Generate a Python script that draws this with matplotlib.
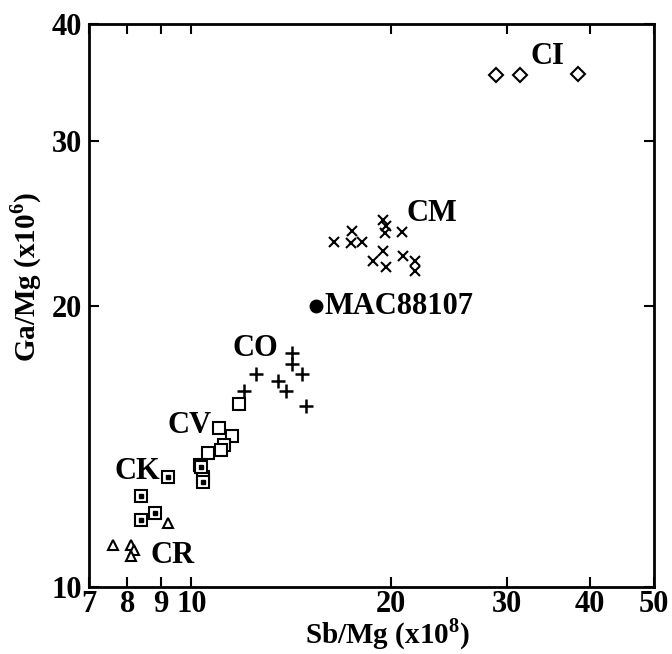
import numpy as np
import matplotlib
matplotlib.use('Agg')
import matplotlib.pyplot as plt
from matplotlib.ticker import FixedLocator, NullLocator

plt.rcParams['font.family'] = ['Liberation Serif', 'DejaVu Serif']
plt.rcParams['font.weight'] = 'bold'
plt.rcParams['mathtext.fontset'] = 'custom'
plt.rcParams['mathtext.rm'] = 'Liberation Serif:bold'
plt.rcParams['mathtext.bf'] = 'Liberation Serif:bold'

# Sb/Mg (x1e8) and Ga/Mg (x1e6) by chondrite group
ci_sb = [28.9, 31.4, 38.4]
ci_ga = [35.3, 35.3, 35.4]

cm_sb = [16.4, 17.4, 17.5, 18.1, 19.5, 19.7, 19.6, 20.8, 19.5, 18.8, 19.7, 20.9, 21.8, 21.8]
cm_ga = [23.4, 23.3, 24.0, 23.4, 24.7, 24.3, 23.9, 23.95, 22.9, 22.3, 22.0, 22.6, 22.3, 21.8]

co_sb = [14.2, 14.2, 14.7, 12.5, 12.0, 13.5, 13.9, 14.9]
co_ga = [17.8, 17.3, 16.9, 16.9, 16.2, 16.6, 16.2, 15.6]

cv_sb = [11.8, 11.0, 11.5, 11.2, 11.1, 10.6, 10.3, 10.4]
cv_ga = [15.7, 14.8, 14.5, 14.2, 14.0, 13.9, 13.5, 13.1]

ck_sb = [9.2, 8.4, 8.4, 8.8, 10.35, 10.4]
ck_ga = [13.1, 12.5, 11.8, 12.0, 13.45, 12.95]

cr_sb = [9.2, 7.6, 8.1, 8.2, 8.1]
cr_ga = [11.7, 11.1, 11.1, 10.95, 10.8]

mac_sb = [15.4]
mac_ga = [20.0]

xticks = [7, 8, 9, 10, 20, 30, 40, 50]
yticks = [10, 20, 30, 40]

fig = plt.figure(figsize=(6.72, 6.54), dpi=100)
ax = fig.add_axes([0.1324, 0.1024, 0.8408, 0.8609])
ax.set_xscale('log')
ax.set_yscale('log')
ax.set_xlim(7, 50)
ax.set_ylim(10, 40)

open_kw = dict(linestyle='none', mfc='white', mec='black', mew=1.5)
ax.plot(ci_sb, ci_ga, marker='D', ms=7, **open_kw)
ax.plot(cm_sb, cm_ga, marker='x', ms=7.5, linestyle='none', color='black', mew=1.5)
ax.plot(co_sb, co_ga, marker='+', ms=10, linestyle='none', color='black', mew=1.8)
ax.plot(cv_sb, cv_ga, marker='s', ms=8, **open_kw)
ax.plot(ck_sb, ck_ga, marker='s', ms=8, **open_kw)
ax.plot(ck_sb, ck_ga, marker='s', ms=3, linestyle='none', color='black')
ax.plot(cr_sb, cr_ga, marker='^', ms=7.5, **open_kw)
ax.plot(mac_sb, mac_ga, marker='o', ms=9, linestyle='none', color='black')

# group names
fs = 22
lab = dict(fontsize=fs, fontweight='bold', ha='center', va='center')
ax.text(34.5, 36.9, 'CI', **lab)
ax.text(23.1, 25.1, 'CM', **lab)
ax.text(12.5, 18.0, 'CO', **lab)
ax.text(9.95, 14.9, 'CV', **lab)
ax.text(8.27, 13.3, 'CK', **lab)
ax.text(9.37, 10.8, 'CR', **lab)
ax.text(15.9, 19.95, 'MAC88107', fontsize=fs, fontweight='bold', ha='left', va='center')

ax.xaxis.set_major_locator(FixedLocator(xticks))
ax.xaxis.set_minor_locator(NullLocator())
ax.yaxis.set_major_locator(FixedLocator(yticks))
ax.yaxis.set_minor_locator(NullLocator())
ax.set_xticklabels([str(t) for t in xticks])
ax.set_yticklabels([str(t) for t in yticks])
ax.tick_params(direction='in', length=7, width=1.5, top=True, right=True,
               labelsize=fs)
ax.tick_params(axis='x', pad=2)
ax.tick_params(axis='y', pad=5)
for lbl in ax.get_xticklabels() + ax.get_yticklabels():
    lbl.set_fontweight('bold')
for s in ax.spines.values():
    s.set_linewidth(2)

ax.set_xlabel(r'Sb/Mg (x10$^{8}$)', fontsize=21, fontweight='bold')
ax.set_ylabel(r'Ga/Mg (x10$^{6}$)', fontsize=21, fontweight='bold')
ax.xaxis.set_label_coords(0.528, -0.052)
ax.yaxis.set_label_coords(-0.08, 0.55)

fig.savefig('out.png', dpi=100)
